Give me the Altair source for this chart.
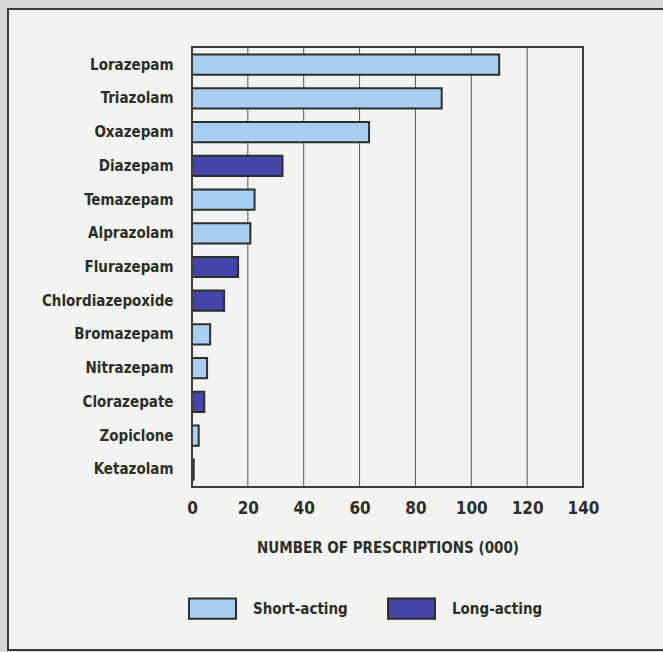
import altair as alt
import pandas as pd

drugs = ["Lorazepam", "Triazolam", "Oxazepam", "Diazepam", "Temazepam", "Alprazolam",
         "Flurazepam", "Chlordiazepoxide", "Bromazepam", "Nitrazepam", "Clorazepate",
         "Zopiclone", "Ketazolam"]
values = [110, 89.4, 63.4, 32.4, 22.4, 20.9, 16.5, 11.5, 6.5, 5.4, 4.4, 2.4, 0.6]
types = ["Short-acting", "Short-acting", "Short-acting", "Long-acting", "Short-acting",
         "Short-acting", "Long-acting", "Long-acting", "Short-acting", "Short-acting",
         "Long-acting", "Short-acting", "Long-acting"]
grid_ticks = [20, 40, 60, 80, 100, 120]
x_ticks = [0, 20, 40, 60, 80, 100, 120, 140]
legend_order = ["Short-acting", "Long-acting"]

LIGHT = "#a8cff2"
DARK = "#4346a8"
INK = "#2b2f27"
FONT = "Liberation Sans Narrow, DejaVu Sans Condensed, sans-serif"

df = pd.DataFrame({"drug": drugs, "value": values, "type": types})
gdf = pd.DataFrame({"g": grid_ticks})

W, H = 391, 440

frame = alt.Chart(pd.DataFrame({"a": [0]})).mark_rect(
    fill="#f3f4f1", stroke="#3a3d38", strokeWidth=2
).encode(x=alt.value(-184), x2=alt.value(480), y=alt.value(-38), y2=alt.value(603))

grid = alt.Chart(gdf).mark_rule(color="#55584f", strokeWidth=1).encode(
    x=alt.X("g:Q", scale=alt.Scale(domain=[0, 140], nice=False)),
    y=alt.value(0), y2=alt.value(H)
)

bars = alt.Chart(df).mark_bar(stroke=INK, strokeWidth=2).encode(
    y=alt.Y("drug:N", sort=drugs,
            scale=alt.Scale(paddingInner=0.4, paddingOuter=0.22),
            axis=alt.Axis(title=None, ticks=False, domain=False, labelPadding=19,
                          labelFont=FONT, labelFontSize=15, labelFontWeight="bold",
                          labelColor=INK, zindex=1)),
    x=alt.X("value:Q", scale=alt.Scale(domain=[0, 140], nice=False),
            axis=alt.Axis(values=x_ticks, grid=False, ticks=False, domain=False,
                          labelFlush=False,
                          labelPadding=13, labelFont=FONT, labelFontSize=17,
                          labelFontWeight="bold", labelColor=INK,
                          title="NUMBER OF PRESCRIPTIONS (000)", titleFont=FONT,
                          titleFontSize=15, titleFontWeight="bold", titleColor=INK,
                          titlePadding=24, zindex=1)),
    color=alt.Color("type:N", scale=alt.Scale(domain=legend_order, range=[LIGHT, DARK]),
                    legend=alt.Legend(title=None, orient="none", legendX=-4, legendY=537,
                                      direction="horizontal",
                                      symbolType="M-1,-0.43H1V0.43H-1Z", symbolSize=2209,
                                      symbolStrokeColor=INK, symbolStrokeWidth=2,
                                      symbolOpacity=1,
                                      labelOffset=16, columnPadding=36, padding=0,
                                      labelFont=FONT, labelFontSize=15,
                                      labelFontWeight="bold", labelColor=INK)),
)

border = alt.Chart(pd.DataFrame({"a": [0]})).mark_rect(
    fill=None, stroke="#3a3d38", strokeWidth=2
).encode(x=alt.value(0), x2=alt.value(W), y=alt.value(0), y2=alt.value(H))

chart = alt.layer(frame, grid, bars, border).properties(
    width=W, height=H,
    background="#d8d8d6",
    padding={"left": 192, "top": 47, "right": 80, "bottom": 165},
    autosize=alt.AutoSizeParams(type="none"),
).configure_view(stroke=None)

chart.save("out.html", embed_options={"renderer": "svg", "actions": False})
